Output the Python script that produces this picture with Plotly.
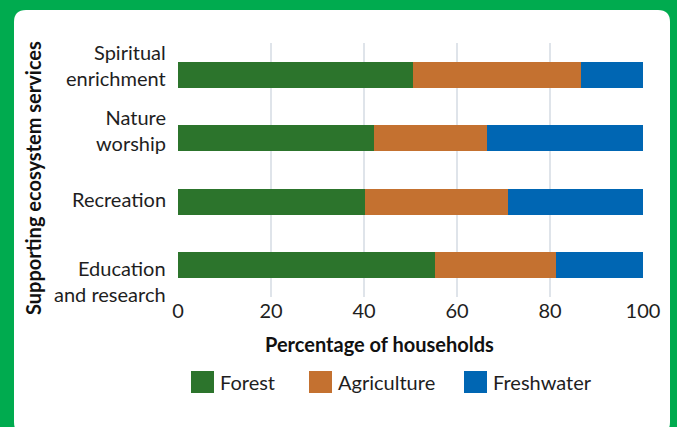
import plotly.graph_objects as go

# Supporting ecosystem services, bottom to top
categories = ["Education<br>and research", "Recreation", "Nature<br>worship", "Spiritual<br>enrichment"]
forest = [55.3, 40.2, 42.2, 50.5]
agriculture = [25.9, 30.8, 24.3, 36.2]
freshwater = [18.8, 29.0, 33.5, 13.3]

series_names = ["Forest", "Agriculture", "Freshwater"]
series_values = [forest, agriculture, freshwater]
series_colors = ["#2c742c", "#c47130", "#0066b3"]

x_ticks = [0, 20, 40, 60, 80, 100]
x_title = "Percentage of households"
y_title = "Supporting ecosystem services"

W, H = 677, 427
FONT = "Lato, 'Open Sans', sans-serif"
TEXT = "#1e1e1e"


def px(x):
    return x / W


def py(y):
    return 1 - y / H


fig = go.Figure()
for name, vals, col in zip(series_names, series_values, series_colors):
    fig.add_trace(go.Bar(
        y=categories, x=vals, name=name, orientation="h",
        marker=dict(color=col, line=dict(width=0)),
        showlegend=False,
    ))

# white rounded panel on green background
x0, x1, y0, y1, r = 14, 670, 10, 434, 12
rx, ry = r / W, r / H
panel = (
    f"M {px(x0)+rx},{py(y0)} L {px(x1)-rx},{py(y0)} "
    f"Q {px(x1)},{py(y0)} {px(x1)},{py(y0)-ry} "
    f"L {px(x1)},{py(y1)+ry} Q {px(x1)},{py(y1)} {px(x1)-rx},{py(y1)} "
    f"L {px(x0)+rx},{py(y1)} Q {px(x0)},{py(y1)} {px(x0)},{py(y1)+ry} "
    f"L {px(x0)},{py(y0)-ry} Q {px(x0)},{py(y0)} {px(x0)+rx},{py(y0)} Z"
)
shapes = [dict(type="path", xref="paper", yref="paper", path=panel,
               fillcolor="white", line=dict(width=0), layer="below")]

annotations = []

# category labels beside the bars
label_shift = [-16, 3, 8, 10]
for cat, dy in zip(categories, label_shift):
    annotations.append(dict(
        x=px(168), xref="paper", y=cat, yref="y", yshift=dy,
        text=cat, showarrow=False, xanchor="right", yanchor="middle",
        align="right", font=dict(family=FONT, size=20, color=TEXT),
    ))

# axis titles
annotations.append(dict(
    x=px(380), y=py(344), xref="paper", yref="paper", text=f"<b>{x_title}</b>",
    showarrow=False, xanchor="center", yanchor="middle",
    font=dict(family=FONT, size=20, color="#111"),
))
annotations.append(dict(
    x=px(33), y=py(178), xref="paper", yref="paper", text=f"<b>{y_title}</b>",
    showarrow=False, xanchor="center", yanchor="middle", textangle=-90,
    font=dict(family=FONT, size=20, color="#111"),
))

# legend
legend_x = [191, 309, 464]
for name, col, lx in zip(series_names, series_colors, legend_x):
    shapes.append(dict(type="rect", xref="paper", yref="paper",
                       x0=px(lx), x1=px(lx + 23), y0=py(393), y1=py(371),
                       fillcolor=col, line=dict(width=0)))
    annotations.append(dict(
        x=px(lx + 27), y=py(382), xref="paper", yref="paper", text=name,
        showarrow=False, xanchor="left", yanchor="middle",
        font=dict(family=FONT, size=20, color=TEXT),
    ))

fig.update_layout(
    width=W, height=H, margin=dict(l=0, r=0, t=0, b=0, autoexpand=False),
    paper_bgcolor="#00ab4f", plot_bgcolor="rgba(0,0,0,0)",
    barmode="stack", bargap=0.59,
    shapes=shapes, annotations=annotations,
    xaxis=dict(
        domain=[px(178), px(643)], range=[0, 100], automargin=False,
        tickvals=x_ticks, ticktext=[str(t) for t in x_ticks],
        showgrid=True, gridcolor="#dfe4ea", gridwidth=1.5,
        zeroline=False, showline=False, ticks="",
        tickfont=dict(family=FONT, size=20, color=TEXT),
    ),
    yaxis=dict(
        domain=[py(297), py(43)], categoryorder="array", categoryarray=categories,
        range=[-0.5, len(categories) - 0.5], automargin=False,
        showticklabels=False, showgrid=False, zeroline=False, showline=False,
    ),
)

fig.write_html("out.html")
